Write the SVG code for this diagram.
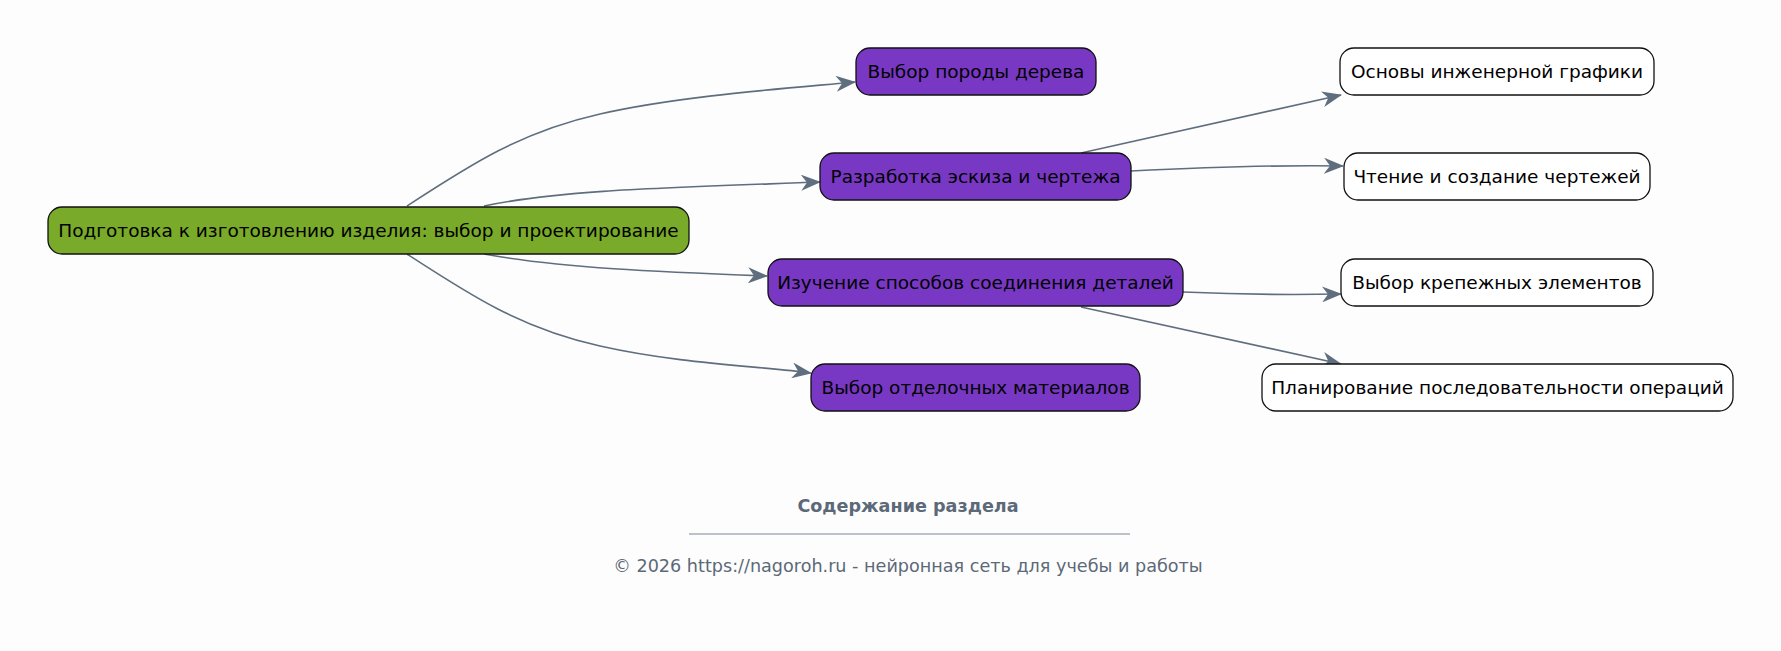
<svg xmlns="http://www.w3.org/2000/svg" width="1781" height="651" viewBox="0 0 1781 651">
<style>
.bg{fill:#fefdfd}
.node rect{stroke:#111;stroke-width:1.3}
.root rect{fill:#7aaa29}
.mid rect{fill:#7838c4}
.leaf rect{fill:#ffffff}
.node text{font-family:"DejaVu Sans",sans-serif;font-size:18.5px;fill:#000;text-anchor:middle;dominant-baseline:central}
.edges path{fill:none;stroke:#5f6e7e;stroke-width:1.6}
.foot{font-family:"DejaVu Sans",sans-serif;fill:#5b6978;text-anchor:middle}
</style>
<defs>
<marker id="arr" viewBox="0 0 20 16" refX="19" refY="8" markerWidth="20" markerHeight="16" markerUnits="userSpaceOnUse" orient="auto">
<path d="M0,0 L20,8 L0,16 L6,8 z" fill="#5f6e7e"/>
</marker>
</defs>
<rect class="bg" x="0" y="0" width="1781" height="651"/>
<g class="edges">
<path d="M407,206 C470,165 520,132 600,114 C680,96 780,89 855,82" marker-end="url(#arr)"/>
<path d="M484,206 C560,190 660,188 820,182" marker-end="url(#arr)"/>
<path d="M484,254 C560,268 660,272 767,276" marker-end="url(#arr)"/>
<path d="M407,254 C470,295 520,328 600,346 C680,364 760,366 811,373" marker-end="url(#arr)"/>
<path d="M1081,153 L1341,95" marker-end="url(#arr)"/>
<path d="M1131,171 C1210,167 1280,165 1343,166" marker-end="url(#arr)"/>
<path d="M1183,292 C1250,295 1290,295 1341,294" marker-end="url(#arr)"/>
<path d="M1081,307 L1341,364" marker-end="url(#arr)"/>
</g>
<g id="root" class="node root">
<rect x="48" y="207" width="641" height="47" rx="14"/>
<text x="368.5" y="230">Подготовка к изготовлению изделия: выбор и проектирование</text>
</g>
<g id="n1" class="node mid">
<rect x="856" y="48" width="240" height="47" rx="14"/>
<text x="976" y="71">Выбор породы дерева</text>
</g>
<g id="n2" class="node mid">
<rect x="820" y="153" width="311" height="47" rx="14"/>
<text x="975.5" y="176">Разработка эскиза и чертежа</text>
</g>
<g id="n3" class="node mid">
<rect x="768" y="259" width="415" height="47" rx="14"/>
<text x="975.5" y="282">Изучение способов соединения деталей</text>
</g>
<g id="n4" class="node mid">
<rect x="811" y="364" width="329" height="47" rx="14"/>
<text x="975.5" y="387">Выбор отделочных материалов</text>
</g>
<g id="l1" class="node leaf">
<rect x="1340" y="48" width="314" height="47" rx="14"/>
<text x="1497" y="71">Основы инженерной графики</text>
</g>
<g id="l2" class="node leaf">
<rect x="1344" y="153" width="306" height="47" rx="14"/>
<text x="1497" y="176">Чтение и создание чертежей</text>
</g>
<g id="l3" class="node leaf">
<rect x="1341" y="259" width="312" height="47" rx="14"/>
<text x="1497" y="282">Выбор крепежных элементов</text>
</g>
<g id="l4" class="node leaf">
<rect x="1262" y="364" width="471" height="47" rx="14"/>
<text x="1497.5" y="387">Планирование последовательности операций</text>
</g>
<g id="footer">
<text class="foot" x="908" y="512" font-size="17.6" font-weight="bold">Содержание раздела</text>
<line x1="689" y1="534" x2="1130" y2="534" stroke="#7a8794" stroke-width="1"/>
<text class="foot" x="908" y="572" font-size="17.6">© 2026 https://nagoroh.ru - нейронная сеть для учебы и работы</text>
</g>
</svg>
